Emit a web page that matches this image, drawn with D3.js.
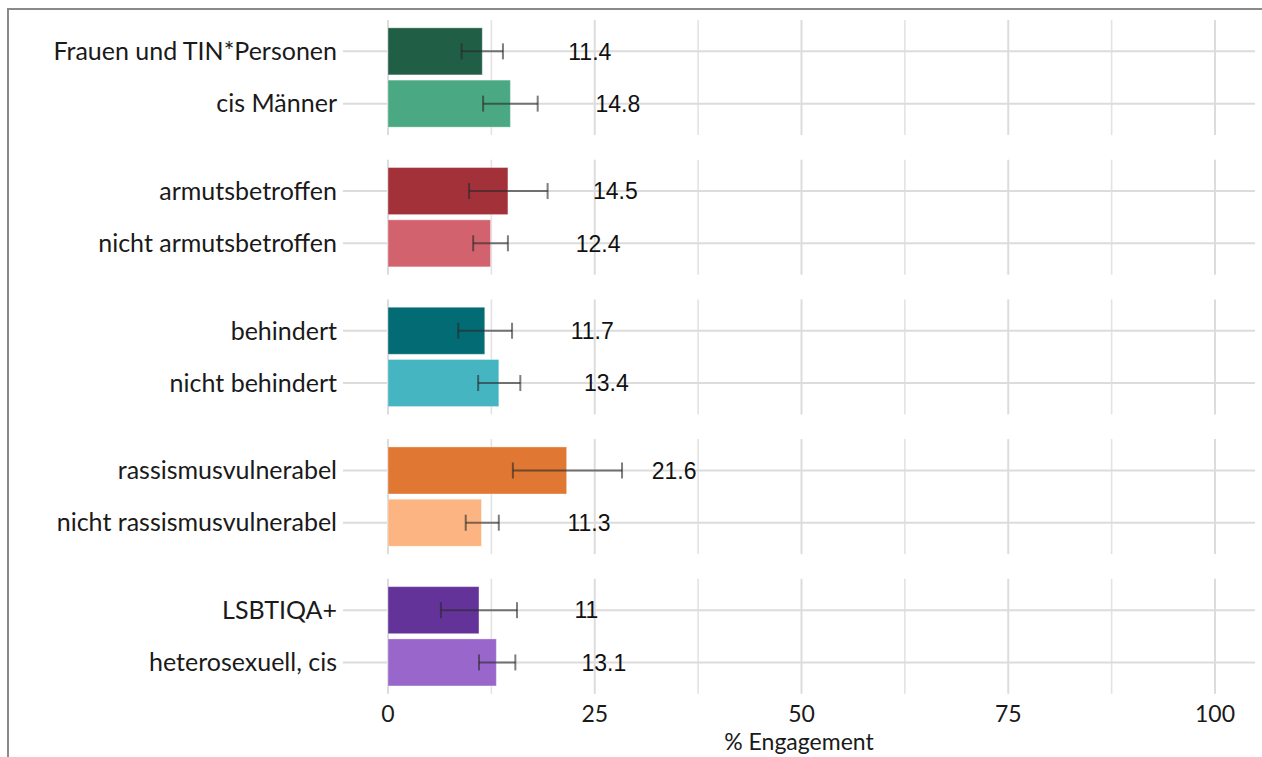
<!DOCTYPE html>
<html>
<head>
<meta charset="utf-8">
<script src="https://cdn.jsdelivr.net/npm/d3@7"></script>
<style>
  body { margin: 0; background: #fff; }
  svg { display: block; }
</style>
</head>
<body>
<script>
// grouped bar chart with error bars, one facet per group

const groups = ["gender", "armut", "behinderung", "rassismus", "sexualitaet"];
const labels = [
  ["Frauen und TIN*Personen", "cis Männer"],
  ["armutsbetroffen", "nicht armutsbetroffen"],
  ["behindert", "nicht behindert"],
  ["rassismusvulnerabel", "nicht rassismusvulnerabel"],
  ["LSBTIQA+", "heterosexuell, cis"]
];
const values = [[11.4, 14.8], [14.5, 12.4], [11.7, 13.4], [21.6, 11.3], [11, 13.1]];
const lower = [[8.9, 11.5], [9.8, 10.3], [8.5, 10.9], [15.1, 9.4], [6.4, 11.0]];
const upper = [[13.9, 18.1], [19.3, 14.5], [15.0, 16.0], [28.3, 13.4], [15.6, 15.4]];
const colors = [
  ["#215e46", "#4aa882"],
  ["#a3313a", "#d2626d"],
  ["#036b73", "#44b5c1"],
  ["#e07833", "#fbb482"],
  ["#64339a", "#9966cc"]
];
const xTicks = [0, 25, 50, 75, 100];
const xMinor = [12.5, 37.5, 62.5, 87.5];

const width = 1262, height = 757;
const panelLeft = 343, panelRight = 1255;
const panelTop = 20, panelH = 115, panelGap = 24.7;

const svg = d3.select("body").append("svg")
  .attr("width", width)
  .attr("height", height);

// outer frame (top + left only visible)
svg.append("path")
  .attr("d", `M8,${height} L8,9 L${width},9`)
  .attr("fill", "none")
  .attr("stroke", "#8a8a8a")
  .attr("stroke-width", 2);

const x = d3.scaleLinear().domain([0, 100]).range([388, 1215]);

const data = groups.map((g, i) => labels[i].map((l, j) => ({
  group: g, label: l, value: values[i][j],
  lo: lower[i][j], hi: upper[i][j], color: colors[i][j]
})));

const panels = svg.selectAll(".panel")
  .data(data)
  .join("g")
  .attr("class", "panel")
  .attr("transform", (d, i) => `translate(0,${panelTop + i * (panelH + panelGap)})`);

panels.each(function(rows) {
  const p = d3.select(this);
  const y = d3.scaleBand()
    .domain(rows.map(r => r.label))
    .range([0, panelH])
    .paddingInner(0.1)
    .paddingOuter(0.15);

  // gridlines
  p.selectAll(".vminor").data(xMinor).join("line")
    .attr("x1", d => x(d)).attr("x2", d => x(d))
    .attr("y1", 0).attr("y2", panelH)
    .attr("stroke", "#e3e3e3").attr("stroke-width", 1.6);
  p.selectAll(".vmajor").data(xTicks).join("line")
    .attr("x1", d => x(d)).attr("x2", d => x(d))
    .attr("y1", 0).attr("y2", panelH)
    .attr("stroke", "#dcdcdc").attr("stroke-width", 2);
  p.selectAll(".hgrid").data(rows).join("line")
    .attr("x1", panelLeft).attr("x2", panelRight)
    .attr("y1", d => y(d.label) + y.bandwidth() / 2)
    .attr("y2", d => y(d.label) + y.bandwidth() / 2)
    .attr("stroke", "#dcdcdc").attr("stroke-width", 2);

  // bars
  p.selectAll(".bar").data(rows).join("rect")
    .attr("class", "bar")
    .attr("x", x(0))
    .attr("width", d => x(d.value) - x(0))
    .attr("y", d => y(d.label))
    .attr("height", y.bandwidth())
    .attr("fill", d => d.color)
    .attr("stroke", "rgba(255,255,255,0.35)")
    .attr("stroke-width", 1);

  // error bars
  const eb = p.selectAll(".err").data(rows).join("g")
    .attr("class", "err")
    .attr("transform", d => `translate(0,${y(d.label) + y.bandwidth() / 2})`)
    .attr("stroke", "rgba(40,40,40,0.6)")
    .attr("stroke-width", 2);
  eb.append("line").attr("x1", d => x(d.lo)).attr("x2", d => x(d.hi)).attr("y1", 0).attr("y2", 0);
  eb.append("line").attr("x1", d => x(d.lo)).attr("x2", d => x(d.lo)).attr("y1", -8).attr("y2", 8);
  eb.append("line").attr("x1", d => x(d.hi)).attr("x2", d => x(d.hi)).attr("y1", -8).attr("y2", 8);

  // value labels
  p.selectAll(".val").data(rows).join("text")
    .attr("x", d => x(d.value + 13))
    .attr("y", d => y(d.label) + y.bandwidth() / 2)
    .attr("dy", "0.36em")
    .attr("text-anchor", "middle")
    .attr("font-family", "Liberation Sans, Arial, sans-serif")
    .attr("font-size", 23)
    .attr("fill", "#111")
    .text(d => d.value);

  // category labels
  p.selectAll(".cat").data(rows).join("text")
    .attr("x", 337)
    .attr("y", d => y(d.label) + y.bandwidth() / 2)
    .attr("dy", "0.35em")
    .attr("text-anchor", "end")
    .attr("font-family", "Lato, Open Sans, sans-serif")
    .attr("font-size", 25)
    .attr("fill", "#1a1a1a")
    .text(d => d.label);
});

// x axis labels
svg.selectAll(".xtick").data(xTicks).join("text")
  .attr("x", d => x(d))
  .attr("y", 722)
  .attr("text-anchor", "middle")
  .attr("font-family", "Lato, Open Sans, sans-serif")
  .attr("font-size", 23)
  .attr("fill", "#1a1a1a")
  .text(d => d);

svg.append("text")
  .attr("x", (panelLeft + panelRight) / 2)
  .attr("y", 750)
  .attr("text-anchor", "middle")
  .attr("font-family", "Lato, Open Sans, sans-serif")
  .attr("font-size", 23)
  .attr("fill", "#1a1a1a")
  .text("% Engagement");
</script>
</body>
</html>
